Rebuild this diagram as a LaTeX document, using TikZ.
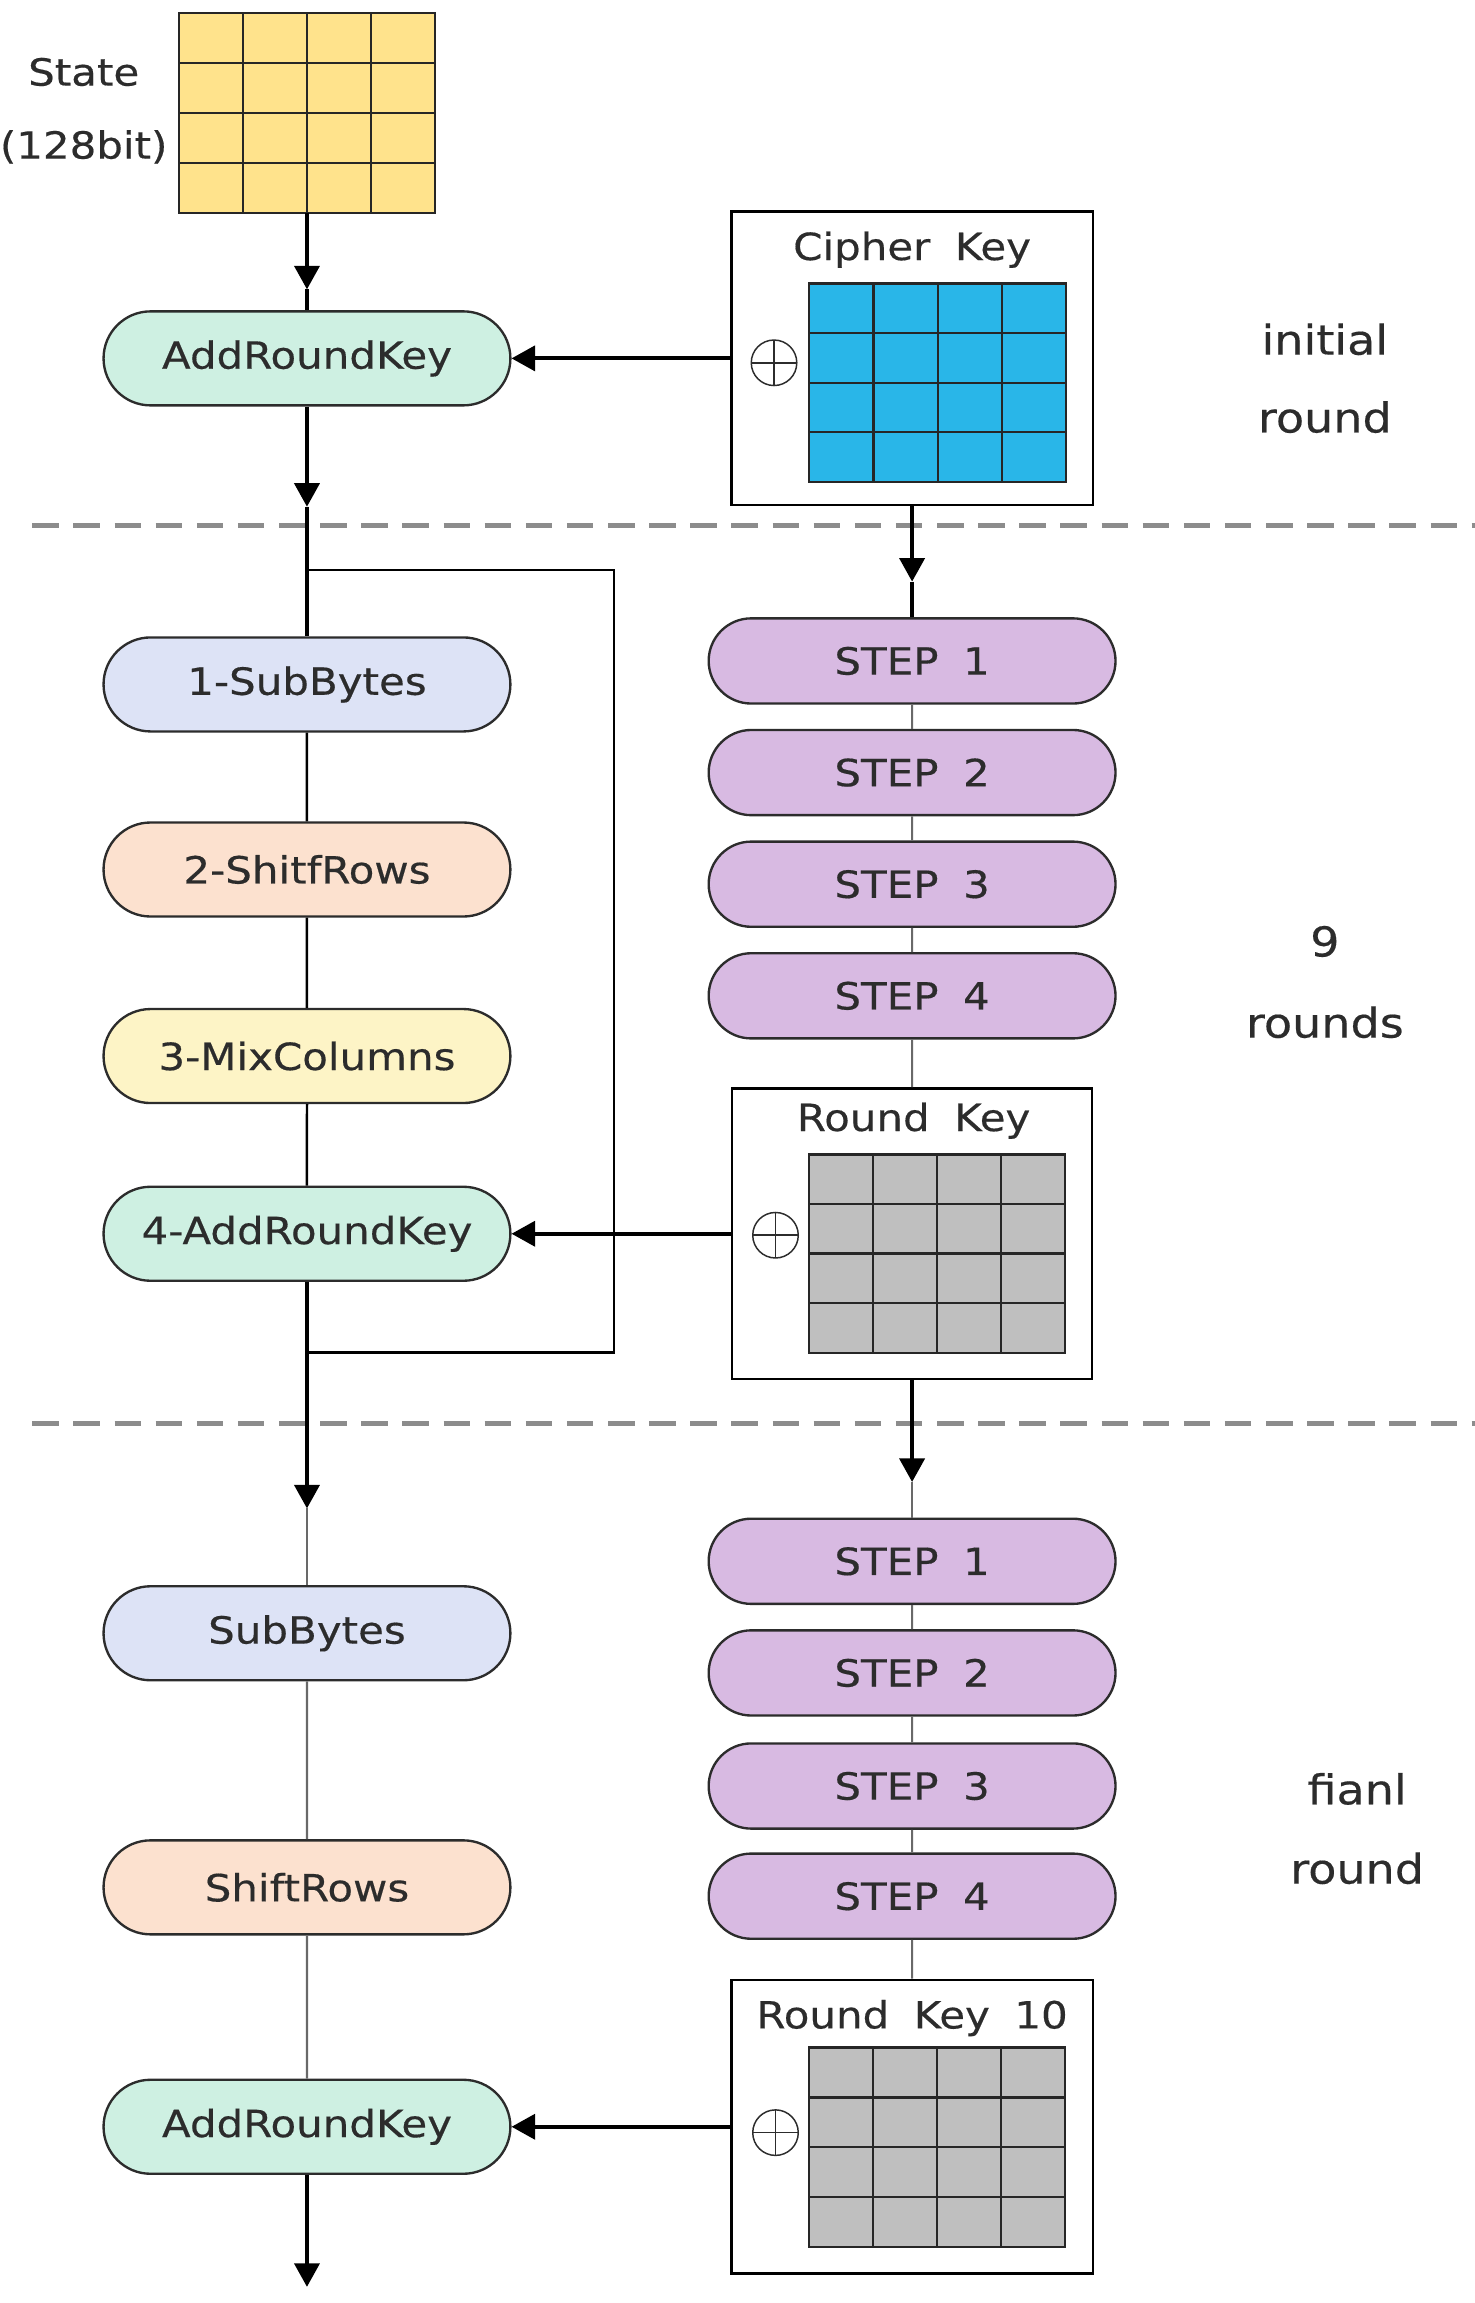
\documentclass[tikz,border=0pt]{standalone}
\usepackage{fontspec}
\setmainfont{DejaVu Sans}[FakeStretch=1.12, FakeBold=0.4]
\usetikzlibrary{arrows.meta,shapes.misc,calc}

\definecolor{statefill}{RGB}{255,227,140}
\definecolor{cipherfill}{RGB}{41,182,232}
\definecolor{keyfill}{RGB}{191,191,191}
\definecolor{arkfill}{RGB}{206,240,226}
\definecolor{subfill}{RGB}{221,227,246}
\definecolor{shiftfill}{RGB}{252,225,207}
\definecolor{mixfill}{RGB}{253,244,198}
\definecolor{stepfill}{RGB}{216,186,226}
\definecolor{inkgray}{RGB}{44,44,44}
\definecolor{sepgray}{RGB}{140,140,140}
\definecolor{wiregray}{RGB}{105,105,105}

% inner lines of a 4x4 byte matrix drawn on a named rectangular node
\newcommand\drawcellgrid[1]{%
  \foreach \k in {1,2,3}{%
    \draw[gridline] ($(#1.north west)!\k/4!(#1.north east)$) -- ($(#1.south west)!\k/4!(#1.south east)$);
    \draw[gridline] ($(#1.north west)!\k/4!(#1.south west)$) -- ($(#1.north east)!\k/4!(#1.south east)$);
  }}

\begin{document}
\begin{tikzpicture}[x=1pt,y=-1pt,
  txt/.style={font=\fontsize{25.5}{30}\selectfont, text=inkgray},
  sidelbl/.style={font=\fontsize{28}{32}\selectfont, text=inkgray},
  proc/.style={rounded rectangle, draw=inkgray, line width=1.6pt,
    minimum width=277pt, minimum height=64pt, inner sep=0pt, txt},
  stepbox/.style={proc, minimum height=58pt, fill=stepfill},
  keybox/.style={rectangle, draw=black, line width=1.6pt, fill=white, inner sep=0pt},
  bytegrid/.style={rectangle, draw=black!85, line width=1.5pt, inner sep=0pt, outer sep=0pt},
  gridline/.style={line width=1.5pt, black!85},
  xorsym/.style={circle, draw=inkgray, line width=1pt, minimum size=31pt, inner sep=0pt,
    path picture={\draw[inkgray, line width=1pt]
      (path picture bounding box.north) -- (path picture bounding box.south)
      (path picture bounding box.west) -- (path picture bounding box.east);}},
  mainline/.style={line width=2.6pt, black},
  loopline/.style={line width=1.7pt, black},
  wire/.style={line width=1.5pt, wiregray},
  arrowed/.style={-{Triangle[width=17pt,length=16pt]}},
  roundsep/.style={line width=3.2pt, sepgray, dash pattern=on 18pt off 10pt}
]
\fill[white] (0,0) rectangle (1004,1568);
\useasboundingbox (0,0) rectangle (1004,1568);

% round separators
\draw[roundsep] (22,358) -- (1004,358);
\draw[roundsep] (22,969) -- (1004,969);

% ---------- initial round ----------
\node[bytegrid, fill=statefill, minimum width=174pt, minimum height=136pt] (state) at (209,77) {};
\drawcellgrid{state}
\node[txt] (statelbl) at (57,49) {State};
\node[txt] (statebits) at (57,100) {(128bit)};

\node[proc, fill=arkfill] (ark0) at (209,244) {AddRoundKey};

\node[keybox, minimum width=246pt, minimum height=200pt] (ckbox) at (621,244) {};
\node[txt] (cktitle) at (621,170) {Cipher\hspace{0.3em} Key};
\node[bytegrid, fill=cipherfill, minimum width=175pt, minimum height=135pt] (ckgrid) at (638.5,260.5) {};
\drawcellgrid{ckgrid}
\node[xorsym] (xor0) at (527,247) {};

\node[sidelbl] (lblinit1) at (902,231) {initial};
\node[sidelbl] (lblinit2) at (902,284) {round};

% ---------- 9 rounds ----------
\node[proc, fill=subfill] (sb1) at (209,466) {1-SubBytes};
\node[proc, fill=shiftfill] (sr1) at (209,592) {2-ShitfRows};
\node[proc, fill=mixfill] (mc1) at (209,719) {3-MixColumns};
\node[proc, fill=arkfill] (ark1) at (209,840) {4-AddRoundKey};

\node[stepbox] (st1) at (621,450) {STEP\hspace{0.3em} 1};
\node[stepbox] (st2) at (621,526) {STEP\hspace{0.3em} 2};
\node[stepbox] (st3) at (621,602) {STEP\hspace{0.3em} 3};
\node[stepbox] (st4) at (621,678) {STEP\hspace{0.3em} 4};

\node[keybox, minimum width=245pt, minimum height=198pt] (rkbox) at (621,840) {};
\node[txt] (rktitle) at (622,763) {Round\hspace{0.3em} Key};
\node[bytegrid, fill=keyfill, minimum width=174pt, minimum height=135pt] (rkgrid) at (638,853.5) {};
\drawcellgrid{rkgrid}
\node[xorsym] (xor1) at (528,841) {};

\node[sidelbl] (lblmid1) at (902,641) {9};
\node[sidelbl] (lblmid2) at (902,696) {rounds};

% ---------- final round ----------
\node[proc, fill=subfill] (sb2) at (209,1112) {SubBytes};
\node[proc, fill=shiftfill] (sr2) at (209,1285) {ShiftRows};
\node[proc, fill=arkfill] (ark2) at (209,1448) {AddRoundKey};

\node[stepbox] (st5) at (621,1063) {STEP\hspace{0.3em} 1};
\node[stepbox] (st6) at (621,1139) {STEP\hspace{0.3em} 2};
\node[stepbox] (st7) at (621,1216) {STEP\hspace{0.3em} 3};
\node[stepbox] (st8) at (621,1291) {STEP\hspace{0.3em} 4};

\node[keybox, minimum width=246pt, minimum height=200pt] (rk10box) at (621,1448) {};
\node[txt] (rk10title) at (621,1374) {Round\hspace{0.3em} Key\hspace{0.3em} 10};
\node[bytegrid, fill=keyfill, minimum width=174pt, minimum height=136pt] (rk10grid) at (638,1462) {};
\drawcellgrid{rk10grid}
\node[xorsym] (xor2) at (528,1452) {};

\node[sidelbl] (lblfin1) at (924,1218) {fianl};
\node[sidelbl] (lblfin2) at (924,1272) {round};

% ---------- arrow tips and loop corners ----------
\coordinate (t1) at (209,197);
\coordinate (t2) at (209,345);
\coordinate (t3) at (621,396);
\coordinate (t4) at (209,1027);
\coordinate (t5) at (621,1009);
\coordinate (t6) at (209,1557);
\coordinate (looptop) at (209,388);
\coordinate (loopcorner) at (418,921);
\coordinate (loopbot) at (209,921);

% ---------- connectors ----------
\draw[mainline, arrowed] (state.south) -- (t1);
\draw[mainline] (t1) -- (ark0.north);
\draw[mainline, arrowed] (ckbox.west) -- (ark0.east);
\draw[mainline, arrowed] (ark0.south) -- (t2);
\draw[mainline] (t2) -- (sb1.north);

\draw[mainline, arrowed] (ckbox.south) -- (t3);
\draw[mainline] (t3) -- (st1.north);

\draw[loopline] (sb1) -- (sr1);
\draw[loopline] (sr1) -- (mc1);
\draw[loopline] (mc1) -- (ark1);
\draw[loopline] (looptop) -| (loopcorner) -- (loopbot);

\draw[wire] (st1) -- (st2);
\draw[wire] (st2) -- (st3);
\draw[wire] (st3) -- (st4);
\draw[wire] (st4) -- (rkbox);

\draw[mainline, arrowed] (rkbox.west) -- (ark1.east);
\draw[mainline, arrowed] (ark1.south) -- (t4);
\draw[wire] (t4) -- (sb2.north);
\draw[mainline, arrowed] (rkbox.south) -- (t5);
\draw[wire] (t5) -- (st5.north);

\draw[wire] (sb2) -- (sr2);
\draw[wire] (sr2) -- (ark2);
\draw[wire] (st5) -- (st6);
\draw[wire] (st6) -- (st7);
\draw[wire] (st7) -- (st8);
\draw[wire] (st8) -- (rk10box);

\draw[mainline, arrowed] (rk10box.west) -- (ark2.east);
\draw[mainline, arrowed] (ark2.south) -- (t6);
\end{tikzpicture}
\end{document}
